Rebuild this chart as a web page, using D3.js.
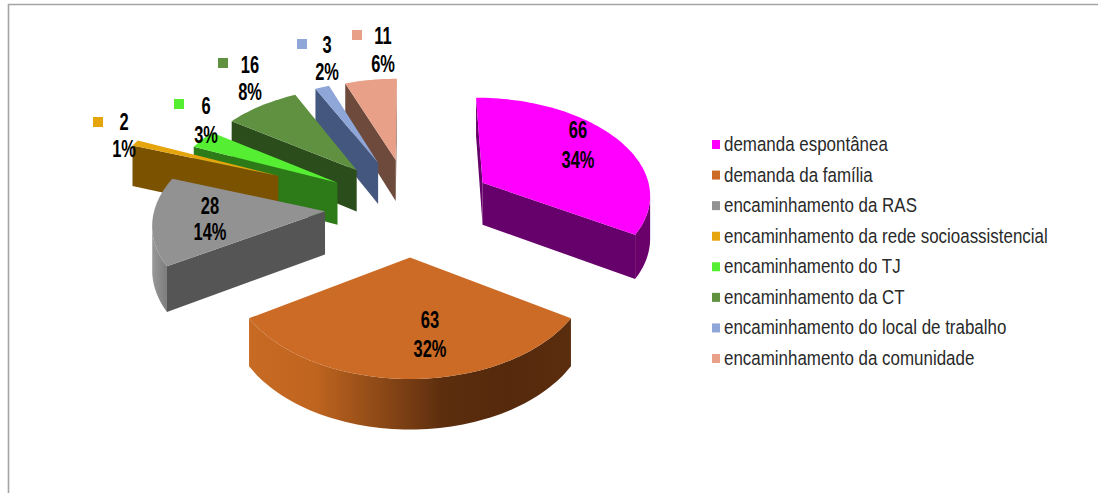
<!DOCTYPE html>
<html lang="pt">
<head>
<meta charset="utf-8">
<style>
  html, body { margin: 0; padding: 0; background: #fff; }
  svg { display: block; }
  text { font-family: "Liberation Sans", Arial, sans-serif; fill: #000; }
</style>
<script src="https://cdn.jsdelivr.net/npm/d3@7"></script>
</head>
<body>
<svg id="chart" width="1098" height="493"></svg>
<script>
// Chart data
const categories = [
  "demanda espontânea", "demanda da família", "encaminhamento da RAS",
  "encaminhamento da rede socioassistencial", "encaminhamento do TJ",
  "encaminhamento da CT", "encaminhamento do local de trabalho",
  "encaminhamento da comunidade"
];
const values = [66, 63, 28, 2, 6, 16, 3, 11];

// Slice appearance
const topColors  = ["#ff00ff", "#cc6b25", "#929292", "#e6a50d", "#55ee33", "#5f9140", "#8ea7d8", "#e8a088"];
const cutColors  = ["#66006a", "#55290c", "#555555", "#7a5200", "#2d7a18", "#2b4d1c", "#44587f", "#6e4a3c"];
const rimStops   = [
  ["#6a006a", "#6a006a"],
  ["#c66a24", "#c0651f", "#8f4a17", "#5c2e0e", "#55290c", "#5a2d0e"],
  ["#999999", "#7c7c7c"],
  ["#7a5200", "#7a5200"], ["#2d7a18", "#2d7a18"], ["#2b4d1c", "#2b4d1c"],
  ["#44587f", "#44587f"], ["#6e4a3c", "#6e4a3c"]
];
const explosion  = [0.5, 0.5, 0.5, 0.86, 0.5, 0.5, 0.5, 0.5];
const paintOrder = [7, 6, 5, 4, 3, 2, 0, 1];

// Data label placement: value line centre, and key swatch where the label sits outside its slice
const labelCentres = [[578, 130], [430, 320], [210, 206], [124, 122], [206, 106], [250, 65], [327, 45], [383, 36]];
const labelLeading = [30, 29, 26, 27, 29, 27, 27, 28];
const labelKeys    = [null, null, null, [98, 122], [179, 104], [223, 63], [302, 44], [357, 35]];

// Perspective projection of the pie's ground plane onto the page
const view = { cx: 410, cy: 206, ax: 170, ay: 98, persp: 0.10, height: 43 };
const scaleAt = v => 1 / (1 - view.persp * v);
const project = (u, v, z) => {
  const s = scaleAt(v);
  return [view.cx + view.ax * u * s, view.cy + view.ay * v * s + z * view.height * s];
};

const svg = d3.select("#chart");
const defs = svg.append("defs");
const line = d3.line();
const total = d3.sum(values);
const pct = d3.format(".0%");

// Chart frame
svg.append("path").attr("d", "M8.5,493V4.5H1098").attr("fill", "none")
  .attr("stroke", "#a4a4a4").attr("stroke-width", 1.6);

const arcs = d3.pie().sort(null).startAngle(0).endAngle(2 * Math.PI)(values);
const gPie = svg.append("g");

paintOrder.forEach(i => {
  const a = arcs[i];
  const mid = (a.startAngle + a.endAngle) / 2;
  const ou = explosion[i] * Math.sin(mid);
  const ov = -explosion[i] * Math.cos(mid);
  const rimAt = t => [ou + Math.sin(t), ov - Math.cos(t)];
  const steps = Math.max(4, Math.ceil((a.endAngle - a.startAngle) / 0.03));
  const angles = d3.range(steps + 1).map(k => a.startAngle + (a.endAngle - a.startAngle) * k / steps);
  const apex0 = project(ou, ov, 0), apex1 = project(ou, ov, 1);

  const g = gPie.append("g").attr("class", "slice");

  // Cut faces: the start face shows when its rim lies left of the apex, the end face when right
  [a.startAngle, a.endAngle].forEach((t, k) => {
    const [u, v] = rimAt(t);
    const r0 = project(u, v, 0), r1 = project(u, v, 1);
    const visible = k === 0 ? r0[0] < apex0[0] : r0[0] > apex0[0];
    if (visible) {
      g.append("path").attr("d", line([apex0, r0, r1, apex1]) + "Z").attr("fill", cutColors[i]);
    }
  });

  // Outer rim: only the stretch of arc that bulges toward the viewer
  const front = angles.filter(t => {
    const [u, v] = rimAt(t);
    const [u2, v2] = rimAt(t + 0.01);
    return project(u2, v2, 0)[0] < project(u, v, 0)[0];
  });
  if (front.length > 1) {
    const upper = front.map(t => { const [u, v] = rimAt(t); return project(u, v, 0); });
    const lower = front.map(t => { const [u, v] = rimAt(t); return project(u, v, 1); }).reverse();
    const outline = upper.concat(lower);
    const [x0, x1] = d3.extent(outline, p => p[0]);
    const stops = rimStops[i];
    const grad = defs.append("linearGradient").attr("id", "rim" + i)
      .attr("gradientUnits", "userSpaceOnUse")
      .attr("x1", x0).attr("x2", x1).attr("y1", 0).attr("y2", 0);
    stops.forEach((c, k) => grad.append("stop").attr("offset", k / (stops.length - 1)).attr("stop-color", c));
    g.append("path").attr("d", line(outline) + "Z").attr("fill", `url(#rim${i})`);
  }

  // Top face
  const top = [apex0].concat(angles.map(t => {
    const [u, v] = rimAt(t);
    return project(u, v, 0);
  }));
  g.append("path").attr("d", line(top) + "Z").attr("fill", topColors[i]);
});

// Data labels: count above, share below, in a condensed bold face
const gLabels = svg.append("g");
arcs.forEach((a, i) => {
  const [x, y] = labelCentres[i];
  const lines = [String(a.data), pct(a.data / total)];
  lines.forEach((s, k) => {
    gLabels.append("text")
      .attr("transform", `translate(${x},${y + k * labelLeading[i] + 8}) scale(0.7,1)`)
      .attr("text-anchor", "middle").attr("font-size", 23.5).attr("font-weight", "bold")
      .text(s);
  });
  if (labelKeys[i]) {
    gLabels.append("rect")
      .attr("x", labelKeys[i][0] - 5).attr("y", labelKeys[i][1] - 5)
      .attr("width", 10).attr("height", 10).attr("fill", topColors[i]);
  }
});

// Legend
const legendY = d3.scalePoint().domain(categories).range([145, 359]);
const gLegend = svg.append("g");
categories.forEach((name, i) => {
  const y = legendY(name);
  gLegend.append("rect").attr("x", 712).attr("y", y - 5).attr("width", 8).attr("height", 9).attr("fill", topColors[i]);
  gLegend.append("text")
    .attr("transform", `translate(724,${y + 6}) scale(0.86,1)`)
    .attr("font-size", 19.7).style("fill", "#2a2a2a")
    .text(name);
});
</script>
</body>
</html>
